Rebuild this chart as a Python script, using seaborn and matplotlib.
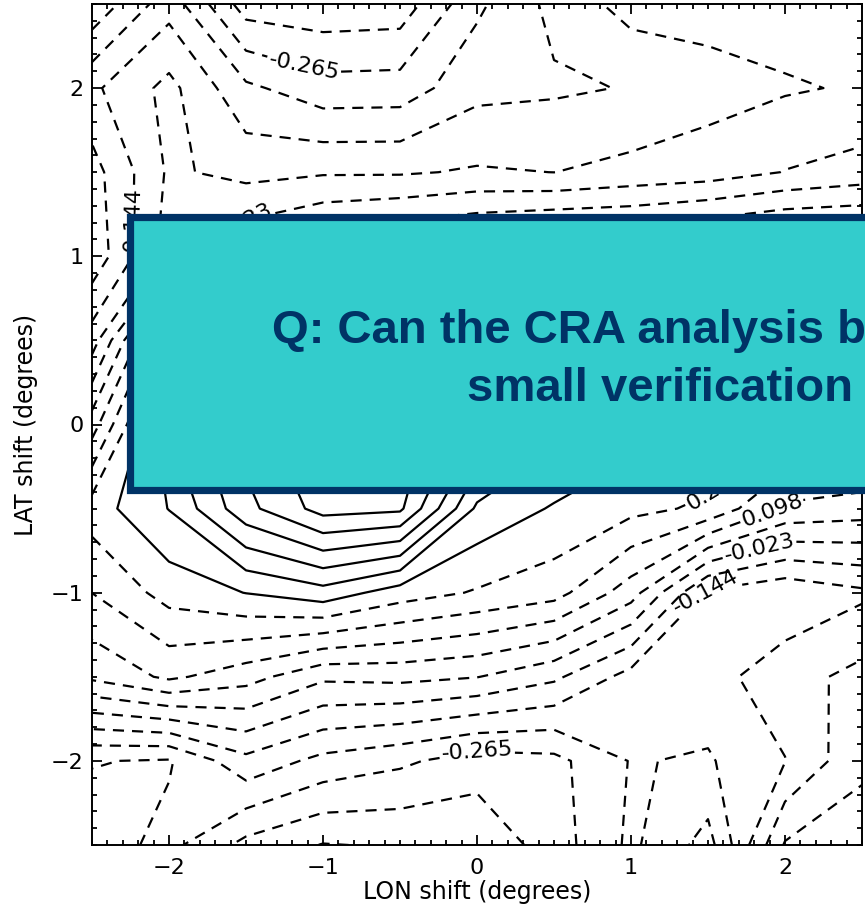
import numpy as np
import matplotlib
matplotlib.use("Agg")
import matplotlib.pyplot as plt
from matplotlib.patches import Rectangle
from matplotlib.ticker import AutoMinorLocator, MultipleLocator
import seaborn as sns

# grid of shifts (degrees)
LON = [-2.5, -2.0, -1.5, -1.0, -0.5, 0.0, 0.5, 1.0, 1.5, 2.0, 2.5]
LAT = [2.5, 2.0, 1.5, 1.0, 0.5, 0.0, -0.5, -1.0, -1.5, -2.0, -2.5]

# correlation at each (LAT row, LON column)
ROW_P25 = [-0.313, -0.168, -0.356, -0.368, -0.362, -0.217, -0.126, -0.059, -0.059, -0.053, -0.047]
ROW_P20 = [-0.156, -0.065, -0.192, -0.241, -0.238, -0.162, -0.153, -0.141, -0.108, -0.090, -0.077]
ROW_P15 = [-0.229, -0.074, -0.102, -0.090, -0.090, -0.077, -0.084, -0.065, -0.053, -0.021, 0.001]
ROW_P10 = [-0.247, -0.053, 0.038, 0.096, 0.128, 0.159, 0.189, 0.189, 0.221, 0.249, 0.249]
ROW_P05 = [-0.114, 0.249, 0.401, 0.491, 0.491, 0.401, 0.310, 0.280, 0.249, 0.249, 0.249]
ROW_000 = [0.068, 0.401, 0.552, 0.655, 0.630, 0.491, 0.370, 0.310, 0.280, 0.249, 0.221]
ROW_M05 = [0.249, 0.342, 0.503, 0.606, 0.594, 0.328, 0.273, 0.237, 0.207, 0.086, 0.068]
ROW_M10 = [0.159, 0.243, 0.281, 0.316, 0.249, 0.213, 0.183, 0.065, -0.156, -0.192, -0.156]
ROW_M15 = [0.050, 0.110, 0.062, -0.011, -0.005, -0.021, -0.071, -0.168, -0.168, -0.108, -0.065]
ROW_M20 = [-0.262, -0.271, -0.162, -0.223, -0.253, -0.295, -0.283, -0.201, -0.211, -0.146, -0.035]
ROW_M25 = [-0.295, -0.247, -0.344, -0.389, -0.380, -0.374, -0.295, -0.192, -0.289, -0.017, 0.007]

LEVELS = [-0.386, -0.3255, -0.265, -0.2045, -0.144, -0.0835, -0.023, 0.0375, 0.098,
          0.1585, 0.219, 0.2795, 0.34, 0.4005, 0.461, 0.5215, 0.582, 0.6425]
LABELLED = [-0.265, -0.144, -0.023, 0.098, 0.219]
LABEL_AT = [(-1.12, 2.14), (-0.01, -1.88), (-2.22, 1.2), (-1.58, 1.24),
            (1.45, -0.95), (1.82, -0.69), (1.9, -0.47), (1.58, -0.43)]

BOX_LINES = ["Q: Can the CRA analysis b", "small verification"]

sns.set_theme(style="white")
plt.rcParams.update({
    "font.family": ["DejaVu Sans"],
    "text.color": "black", "axes.labelcolor": "black",
    "axes.linewidth": 1.4, "axes.edgecolor": "black",
    "xtick.direction": "in", "ytick.direction": "in",
    "xtick.top": True, "ytick.right": True,
    "xtick.bottom": True, "ytick.left": True,
    "xtick.major.size": 7.5, "ytick.major.size": 7.5,
    "xtick.minor.size": 3.8, "ytick.minor.size": 3.8,
    "xtick.major.width": 1.3, "ytick.major.width": 1.3,
    "xtick.minor.width": 1.3, "ytick.minor.width": 1.3,
    "xtick.labelsize": 16, "ytick.labelsize": 16,
    "xtick.color": "black", "ytick.color": "black",
})

W, H = 865, 910
fig = plt.figure(figsize=(W / 100, H / 100), dpi=100)
fig.patch.set_facecolor("white")
ax = fig.add_axes([92 / W, 1 - 845 / H, 770 / W, 841 / H])

z = np.array([ROW_P25, ROW_P20, ROW_P15, ROW_P10, ROW_P05, ROW_000,
              ROW_M05, ROW_M10, ROW_M15, ROW_M20, ROW_M25])
DASH = (0, (5, 3.6))
plain = [lv for lv in LEVELS if lv not in LABELLED]
styles = ["solid" if lv >= 0.25 else DASH for lv in plain]
ax.contour(LON, LAT, z, levels=plain, colors="black", linewidths=1.6,
           linestyles=styles)
cs_lab = ax.contour(LON, LAT, z, levels=LABELLED, colors="black", linewidths=1.6,
                    linestyles=[DASH] * len(LABELLED))
ax.clabel(cs_lab, manual=LABEL_AT, fmt="%.3f", fontsize=16,
          colors="black", inline=True, inline_spacing=2)

ax.set_xlim(-2.5, 2.5)
ax.set_ylim(-2.5, 2.5)
ax.xaxis.set_major_locator(MultipleLocator(1))
ax.yaxis.set_major_locator(MultipleLocator(1))
ax.xaxis.set_minor_locator(AutoMinorLocator(10))
ax.yaxis.set_minor_locator(AutoMinorLocator(10))
ax.tick_params(axis="x", which="both", pad=9)
ax.tick_params(axis="y", which="both", pad=6)
ax.set_xlabel("LON shift (degrees)", fontsize=17, labelpad=2)
ax.set_ylabel("LAT shift (degrees)", fontsize=17, labelpad=9)
for s in ax.spines.values():
    s.set_visible(True)

# overlay question box
fig.add_artist(Rectangle((129.5 / W, 1 - 489.5 / H), 900 / W, 273 / H,
                         transform=fig.transFigure, facecolor="#33CCCC",
                         edgecolor="#003366", linewidth=5.2, zorder=5))
for txt, x0, y0 in zip(BOX_LINES, [272, 467], [343, 401]):
    fig.text(x0 / W, 1 - y0 / H, txt, ha="left", va="baseline", fontsize=34,
             fontweight="bold", family=["Liberation Sans", "DejaVu Sans"],
             color="#003366", zorder=6)

fig.savefig("out.png", dpi=100)
